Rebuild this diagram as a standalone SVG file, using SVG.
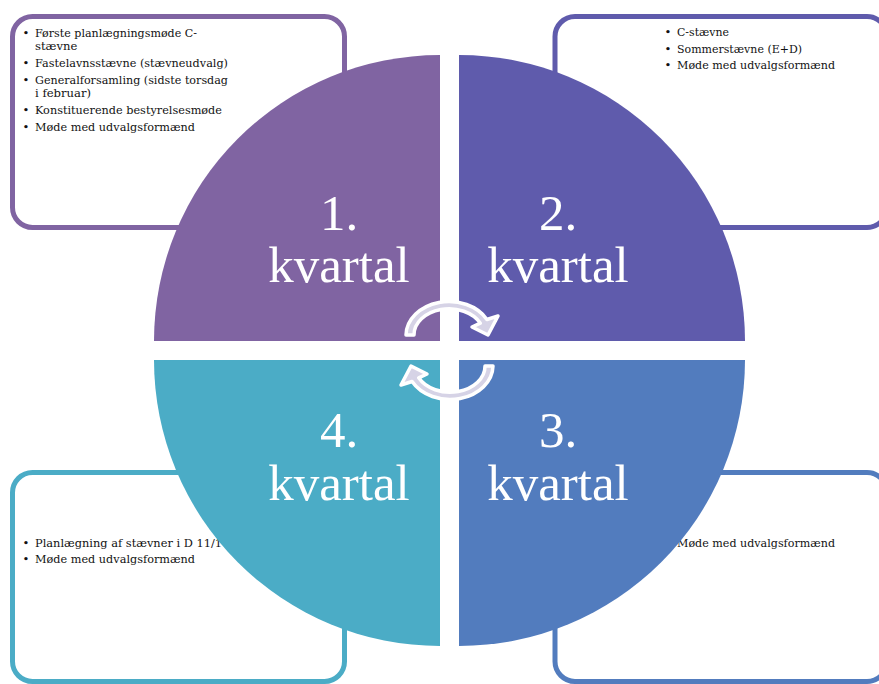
<svg xmlns="http://www.w3.org/2000/svg" width="879" height="684" viewBox="0 0 879 684">
<style>
.box{fill:#fff;stroke-width:5}
.t{font-family:"DejaVu Serif","Liberation Serif",serif;font-size:11.6px;fill:#111}
.big{font-family:"Liberation Serif","DejaVu Serif",serif;font-size:51px;fill:#fff;text-anchor:middle}
.arr{fill:#D6D3E6;stroke:#fff;stroke-width:3.5;stroke-linejoin:round}
</style>
<rect width="879" height="684" fill="#fff"/>
<g id="box1">
<rect class="box" x="12.5" y="16.5" width="332" height="211" rx="20" stroke="#8064A2"/>
<text class="t"><tspan x="22.5" y="37">•</tspan><tspan x="35" y="37" textLength="162" lengthAdjust="spacingAndGlyphs">Første planlægningsmøde C-</tspan><tspan x="35" y="50">stævne</tspan><tspan x="22.5" y="67">•</tspan><tspan x="35" y="67" textLength="193" lengthAdjust="spacingAndGlyphs">Fastelavnsstævne (stævneudvalg)</tspan><tspan x="22.5" y="84">•</tspan><tspan x="35" y="84" textLength="193" lengthAdjust="spacingAndGlyphs">Generalforsamling (sidste torsdag</tspan><tspan x="35" y="97">i februar)</tspan><tspan x="22.5" y="114">•</tspan><tspan x="35" y="114" textLength="187" lengthAdjust="spacingAndGlyphs">Konstituerende bestyrelsesmøde</tspan><tspan x="22.5" y="131">•</tspan><tspan x="35" y="131" textLength="160" lengthAdjust="spacingAndGlyphs">Møde med udvalgsformænd</tspan></text>
</g>
<g id="box2">
<rect class="box" x="555" y="16.5" width="332" height="211" rx="20" stroke="#5F5BAC"/>
<text class="t"><tspan x="664.5" y="36">•</tspan><tspan x="677" y="36" textLength="52" lengthAdjust="spacingAndGlyphs">C-stævne</tspan><tspan x="664.5" y="52.5">•</tspan><tspan x="677" y="52.5" textLength="125" lengthAdjust="spacingAndGlyphs">Sommerstævne (E+D)</tspan><tspan x="664.5" y="69">•</tspan><tspan x="677" y="69" textLength="158" lengthAdjust="spacingAndGlyphs">Møde med udvalgsformænd</tspan></text>
</g>
<g id="box4">
<rect class="box" x="12.5" y="472.5" width="332" height="209" rx="20" stroke="#4BACC6"/>
<text class="t"><tspan x="22.5" y="546.5">•</tspan><tspan x="35" y="546.5" textLength="187" lengthAdjust="spacingAndGlyphs">Planlægning af stævner i D 11/1</tspan><tspan x="22.5" y="563">•</tspan><tspan x="35" y="563" textLength="160" lengthAdjust="spacingAndGlyphs">Møde med udvalgsformænd</tspan></text>
</g>
<g id="box3">
<rect class="box" x="555" y="472.5" width="332" height="209" rx="20" stroke="#527CBE"/>
<text class="t"><tspan x="664.5" y="546.5">•</tspan><tspan x="677" y="546.5" textLength="158" lengthAdjust="spacingAndGlyphs">Møde med udvalgsformænd</tspan></text>
</g>
<g id="q1">
<path d="M440 341 L154 341 A286 286 0 0 1 440 55 Z" fill="#8064A2"/>
<text class="big" x="339" y="230">1.</text>
<text class="big" x="339" y="282">kvartal</text>
</g>
<g id="q2">
<path d="M459 341 L459 55 A286 286 0 0 1 745 341 Z" fill="#5F5BAC"/>
<text class="big" x="558" y="230">2.</text>
<text class="big" x="558" y="282">kvartal</text>
</g>
<g id="q3">
<path d="M459 360 L745 360 A286 286 0 0 1 459 646 Z" fill="#527CBE"/>
<text class="big" x="558" y="447">3.</text>
<text class="big" x="558" y="500">kvartal</text>
</g>
<g id="q4">
<path d="M440 360 L440 646 A286 286 0 0 1 154 360 Z" fill="#4BACC6"/>
<text class="big" x="339" y="447">4.</text>
<text class="big" x="339" y="500">kvartal</text>
</g>
<g id="connectors">
<path class="arr" d="M406 335 A43 34 0 0 1 486.9 319.5 L498 316 L488 335 L472 327 L480.3 323.2 A35 26 0 0 0 414 335 Z"/>
<path class="arr" transform="rotate(180 449.5 350.5)" d="M406 335 A43 34 0 0 1 486.9 319.5 L498 316 L488 335 L472 327 L480.3 323.2 A35 26 0 0 0 414 335 Z"/>
</g>
</svg>
